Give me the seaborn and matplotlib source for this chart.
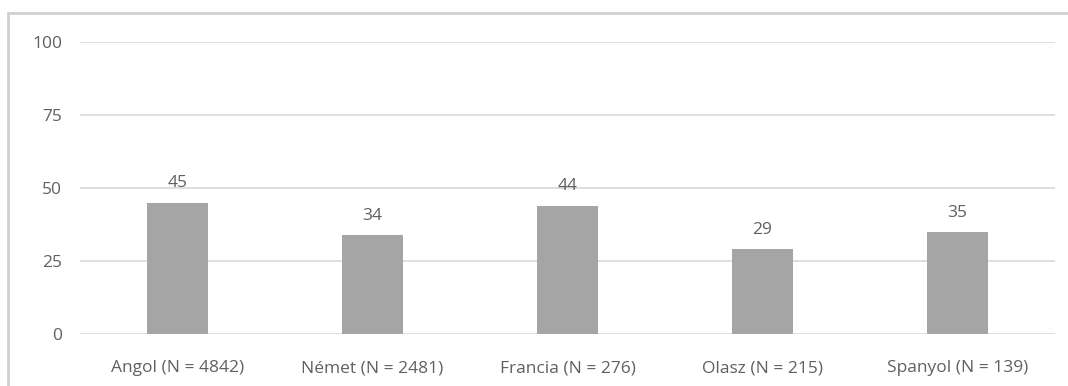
import matplotlib
matplotlib.use("Agg")
import matplotlib.pyplot as plt
import seaborn as sns
import pandas as pd
from matplotlib.lines import Line2D

categories = ["Angol (N = 4842)", "Német (N = 2481)", "Francia (N = 276)",
              "Olasz (N = 215)", "Spanyol (N = 139)"]
values = [45, 34, 44, 29, 35]
yticks = [0, 25, 50, 75, 100]

sns.set_theme(style="white")
plt.rcParams["font.family"] = ["Open Sans", "DejaVu Sans"]

text_color = "#606060"
bar_color = "#a5a5a5"
grid_color = "#d9d9d9"
fs = 12.5

fig = plt.figure(figsize=(10.68, 3.86), dpi=100)
ax = fig.add_axes([80 / 1068, 52 / 386, 975 / 1068, 292 / 386])

df = pd.DataFrame({"cat": categories, "val": values})
sns.barplot(data=df, x="cat", y="val", color=bar_color, saturation=1,
            width=0.31, linewidth=0, ax=ax, zorder=3)

ax.set_ylim(0, 100)
ax.set_xlim(-0.5, len(categories) - 0.5)
ax.set_yticks(yticks)
ax.set_xlabel("")
ax.set_ylabel("")
for y in yticks:
    ax.axhline(y, color=grid_color, lw=1.2, zorder=1)
for s in ax.spines.values():
    s.set_visible(False)

ax.tick_params(axis="y", length=0, pad=13, labelsize=fs, labelcolor=text_color)
ax.tick_params(axis="x", length=0, pad=19, labelsize=fs, labelcolor=text_color)

for i, v in enumerate(values):
    ax.annotate(str(v), (i, v), xytext=(0, 8), textcoords="offset points",
                ha="center", va="bottom", fontsize=fs, color=text_color)

# outer chart frame (top and left edges)
fig.add_artist(Line2D([8 / 1068, 1.0], [(386 - 13) / 386] * 2,
                      transform=fig.transFigure, color="#d0d0d0", lw=2))
fig.add_artist(Line2D([8 / 1068] * 2, [0.0, (386 - 13) / 386],
                      transform=fig.transFigure, color="#d0d0d0", lw=2))

fig.savefig("out.png", dpi=100)
